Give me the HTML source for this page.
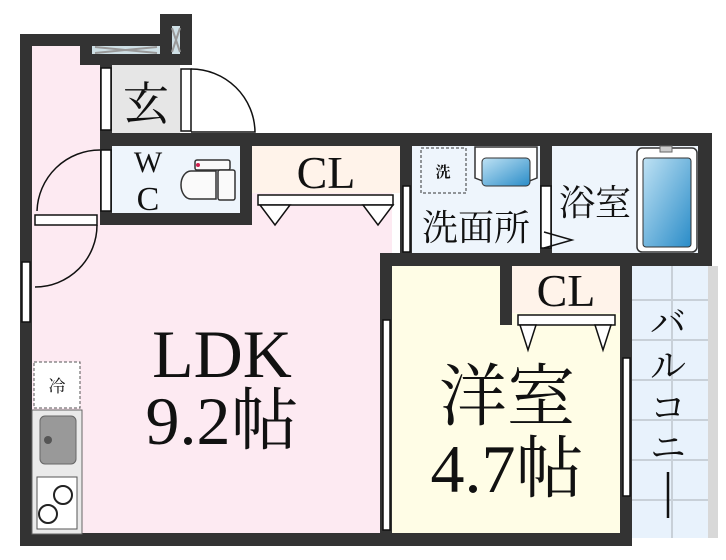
<!DOCTYPE html>
<html><head><meta charset="utf-8"><style>
html,body{margin:0;padding:0;background:#fff;width:726px;height:560px;overflow:hidden}
svg{display:block}
text{font-family:"Liberation Serif","Noto Serif CJK JP","Noto Serif CJK SC",serif;fill:#111}
</style></head><body>
<svg width="726" height="560" viewBox="0 0 726 560" xmlns="http://www.w3.org/2000/svg">
<!-- floors -->
<rect x="32" y="46" width="70" height="100" fill="#fdeaf2"/>
<rect x="32" y="140" width="360" height="396" fill="#fdeaf2"/>
<rect x="112" y="65" width="68" height="68" fill="#e6e6e6"/>
<rect x="112" y="146" width="128" height="67" fill="#eef5fc"/>
<rect x="252" y="146" width="148" height="47" fill="#fff3ea"/>
<rect x="412" y="146" width="128" height="108" fill="#eef5fc"/>
<rect x="552" y="146" width="146" height="108" fill="#eef5fc"/>
<rect x="392" y="266" width="228" height="268" fill="#fffde6"/>
<rect x="512" y="266" width="108" height="47" fill="#fff3ea"/>
<!-- balcony -->
<rect x="632" y="266" width="76" height="272" fill="#e8f2fc"/>
<rect x="708" y="266" width="10" height="272" fill="#d8d8d8"/>
<g stroke="#c8d0d8" stroke-width="2">
<line x1="672" y1="266" x2="672" y2="538"/>
<line x1="632" y1="300" x2="708" y2="300"/><line x1="632" y1="340" x2="708" y2="340"/>
<line x1="632" y1="380" x2="708" y2="380"/><line x1="632" y1="420" x2="708" y2="420"/>
<line x1="632" y1="460" x2="708" y2="460"/><line x1="632" y1="500" x2="708" y2="500"/>
</g>
<!-- walls -->
<g fill="#333">
<rect x="20" y="34" width="12" height="512"/>
<rect x="20" y="34" width="172" height="12"/>
<rect x="80" y="34" width="112" height="31"/>
<rect x="160" y="14" width="32" height="51"/>
<rect x="100" y="65" width="12" height="160"/>
<rect x="100" y="133" width="612" height="13"/>
<rect x="100" y="213" width="152" height="12"/>
<rect x="240" y="133" width="12" height="92"/>
<rect x="400" y="146" width="12" height="108"/>
<rect x="540" y="146" width="12" height="108"/>
<rect x="698" y="133" width="14" height="133"/>
<rect x="380" y="253" width="332" height="13"/>
<rect x="380" y="253" width="12" height="293"/>
<rect x="500" y="266" width="12" height="59"/>
<rect x="620" y="266" width="12" height="280"/>
<rect x="20" y="533" width="612" height="13"/>
</g>
<!-- windows -->
<rect x="92" y="46" width="68" height="8" fill="#cfe0e6"/>
<path d="M95 47 L157 53 M95 53 L157 47" stroke="#999" stroke-width="2"/>
<rect x="172" y="26" width="8" height="28" fill="#cfe0e6"/>
<path d="M172 28 L180 52 M180 28 L172 52" stroke="#999" stroke-width="2"/>
<!-- doors -->
<g fill="#fff" stroke="#111" stroke-width="1.5">
<rect x="101" y="68" width="10" height="62"/>
<rect x="181" y="69" width="10" height="62"/>
<rect x="101" y="150" width="10" height="61"/>
<rect x="35" y="215" width="62" height="10"/>
<rect x="22" y="262" width="8" height="60"/>
<rect x="403" y="186" width="7" height="66"/>
<rect x="541" y="186" width="10" height="62"/>
<rect x="383" y="320" width="7" height="210"/>
<rect x="623" y="358" width="7" height="138"/>
<rect x="258" y="195" width="135" height="10"/>
<rect x="518" y="315" width="97" height="10"/>
</g>
<g fill="none" stroke="#111" stroke-width="1.5">
<path d="M191 69 A64 64 0 0 1 255 132 L191 132"/>
<path d="M100 150 A63 63 0 0 0 37 211"/>
<path d="M97 225 A62 62 0 0 1 35 287"/>
<path d="M544 232 L572 240 L544 248"/>
</g>
<g fill="#fff" stroke="#111" stroke-width="1.5">
<path d="M260 205 L290 205 L275 225 Z"/><path d="M363 205 L393 205 L378 225 Z"/>
<path d="M520 325 L536 325 L528 350 Z"/><path d="M595 325 L611 325 L603 350 Z"/>
</g>
<!-- fixtures -->
<g stroke="#333" stroke-width="1.5" fill="#fafafa">
<rect x="195" y="160" width="35" height="10" rx="2"/>
<rect x="218" y="170" width="17" height="30" rx="2"/>
<path d="M216 171 L191 171 A10 14 0 0 0 191 199 L216 199 Z"/>
</g>
<circle cx="198" cy="165" r="2" fill="#d02050"/>
<rect x="421" y="148" width="45" height="45" fill="none" stroke="#333" stroke-dasharray="3,2"/>
<text x="443" y="177" font-size="15" text-anchor="middle" font-weight="bold" font-family="Noto Sans CJK JP,sans-serif">洗</text>
<path d="M475 147 L537 147 L537 178 Q506 192 475 178 Z" fill="#fff" stroke="#333" stroke-width="1.5"/>
<defs><linearGradient id="g" x1="0" y1="0" x2="1" y2="1"><stop offset="0" stop-color="#bfe2f4"/><stop offset="1" stop-color="#2a8cc8"/></linearGradient></defs>
<rect x="482" y="158" width="48" height="28" rx="4" fill="url(#g)" stroke="#333"/>
<rect x="637" y="148" width="60" height="104" rx="5" fill="#fff" stroke="#333" stroke-width="1.5"/>
<rect x="643" y="158" width="48" height="89" rx="3" fill="url(#g)" stroke="#333"/>
<rect x="660" y="146" width="12" height="6" fill="#ccc" stroke="#666"/>
<!-- kitchen -->
<rect x="34" y="362" width="46" height="46" fill="#fff" stroke="#555" stroke-dasharray="3,2"/>
<text x="57" y="392" font-size="17" text-anchor="middle" font-family="Noto Sans CJK JP,sans-serif">冷</text>
<rect x="32" y="410" width="50" height="124" fill="#eaeaea" stroke="#666"/>
<rect x="40" y="416" width="36" height="48" rx="5" fill="#999" stroke="#666"/>
<circle cx="48" cy="440" r="4" fill="#555"/>
<rect x="37" y="477" width="40" height="52" fill="#fff" stroke="#555"/>
<circle cx="63" cy="495" r="9" fill="#fff" stroke="#222" stroke-width="2"/>
<circle cx="48" cy="514" r="9" fill="#fff" stroke="#222" stroke-width="2"/>
<!-- labels -->
<text x="146" y="120" font-size="46" text-anchor="middle">玄</text>
<text x="148" y="172" font-size="30" text-anchor="middle">W</text>
<text x="148" y="210" font-size="34" text-anchor="middle">C</text>
<text x="326" y="188" font-size="46" text-anchor="middle">CL</text>
<text x="476" y="240" font-size="36" text-anchor="middle">洗面所</text>
<text x="595" y="215" font-size="36" text-anchor="middle">浴室</text>
<text x="566" y="306" font-size="46" text-anchor="middle">CL</text>
<text x="222" y="377" font-size="68" text-anchor="middle">LDK</text>
<text x="222" y="444" font-size="68" text-anchor="middle">9.2帖</text>
<text x="507" y="420" font-size="68" text-anchor="middle">洋室</text>
<text x="507" y="492" font-size="68" text-anchor="middle">4.7帖</text>
<g font-size="36" text-anchor="middle">
<text x="668" y="335">バ</text><text x="668" y="378">ル</text><text x="668" y="420">コ</text><text x="668" y="460">ニ</text>
</g>
<line x1="668" y1="472" x2="668" y2="518" stroke="#111" stroke-width="2.5"/>
</svg>
</body></html>
